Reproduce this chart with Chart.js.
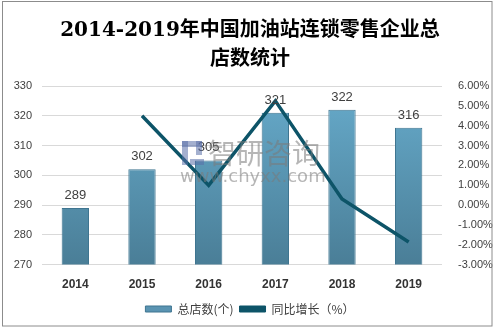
<!DOCTYPE html>
<html>
<head>
<meta charset="utf-8">
<script src="https://cdn.jsdelivr.net/npm/chart.js@4/dist/chart.umd.min.js"></script>
<style>
html,body{margin:0;padding:0;background:#fff;}
#wrap{width:498px;height:330px;}
</style>
</head>
<body>
<div id="wrap"><canvas id="c" width="498" height="330"></canvas></div>
<script>
const years = ['2014','2015','2016','2017','2018','2019'];
const storeCounts = [289, 302, 305, 321, 322, 316];
const growthRates = [null, 4.5, 0.99, 5.25, 0.31, -1.86];
const leftTicks = [270, 280, 290, 300, 310, 320, 330];
const rightTicks = [-3, -2, -1, 0, 1, 2, 3, 4, 5, 6];
const titleLines = ['2014-2019年中国加油站连锁零售企业总', '店数统计'];
const seriesNames = ['总店数(个)', '同比增长（%）'];
const watermarkText = ['智研咨询', 'www.chyxx.com'];

const barLabels = {
  id: 'barLabels',
  afterDatasetsDraw(chart) {
    const ctx = chart.ctx;
    const meta = chart.getDatasetMeta(0);
    ctx.save();
    ctx.font = '13px "Liberation Sans", Arial, sans-serif';
    ctx.fillStyle = '#404040';
    ctx.textAlign = 'center';
    ctx.textBaseline = 'bottom';
    meta.data.forEach((bar, i) => {
      ctx.fillText(String(storeCounts[i]), bar.x, bar.y - 6);
    });
    ctx.restore();
  }
};

const decor = {
  id: 'decor',
  afterDraw(chart) {
    const ctx = chart.ctx;
    ctx.save();
    ctx.globalAlpha = 0.55;
    ctx.fillStyle = '#7a7a7a';
    ctx.font = '28px "Noto Sans CJK SC", sans-serif';
    ctx.textBaseline = 'middle';
    ctx.textAlign = 'left';
    ctx.fillText(watermarkText[0], 208, 153);
    ctx.font = '18px "DejaVu Sans", sans-serif';
    ctx.fillText(watermarkText[1], 180, 177);
    ctx.fillStyle = '#5a6fa8';
    ctx.fillRect(182, 141, 6, 24);
    ctx.fillRect(182, 141, 20, 6);
    ctx.fillRect(196, 141, 6, 14);
    ctx.fillRect(190, 159, 14, 6);
    ctx.restore();
    ctx.save();
    ctx.strokeStyle = '#8c8c8c';
    ctx.lineWidth = 1;
    ctx.strokeRect(2.5, 1.5, 489.5, 324.5);
    ctx.restore();
  }
};

function barGradient(context) {
  const chart = context.chart;
  const area = chart.chartArea;
  if (!area) return '#5f9fbf';
  const g = chart.ctx.createLinearGradient(0, area.top, 0, area.bottom);
  g.addColorStop(0, '#67abcb');
  g.addColorStop(1, '#4a7e97');
  return g;
}

new Chart(document.getElementById('c'), {
  data: {
    labels: years,
    datasets: [
      {
        type: 'bar',
        label: seriesNames[0],
        data: storeCounts,
        yAxisID: 'y',
        backgroundColor: barGradient,
        borderColor: '#3f7590',
        borderWidth: 1,
        barPercentage: 0.41,
        categoryPercentage: 1.0,
        order: 2
      },
      {
        type: 'line',
        label: seriesNames[1],
        data: growthRates,
        yAxisID: 'y1',
        borderColor: '#0d5468',
        backgroundColor: '#0d5468',
        borderWidth: 3.5,
        pointRadius: 0,
        tension: 0,
        order: 1
      }
    ]
  },
  options: {
    responsive: false,
    animation: false,
    layout: { padding: { left: 6, right: 4, top: 0, bottom: 5 } },
    plugins: {
      title: {
        display: true,
        text: titleLines,
        color: '#000',
        font: { family: '"DejaVu Serif", "Noto Sans CJK SC", serif', size: 20, weight: 'bold', lineHeight: 1.45 },
        padding: { top: 16, bottom: 12 }
      },
      legend: {
        position: 'bottom',
        labels: {
          color: '#404040',
          font: { family: '"Noto Sans CJK SC", sans-serif', size: 12 },
          boxWidth: 26,
          boxHeight: 6,
          padding: 6,
          generateLabels(chart) {
            return chart.data.datasets.map((ds, i) => ({
              text: ds.label,
              fillStyle: i === 0 ? '#5a94b2' : '#0d5468',
              strokeStyle: i === 0 ? '#3f7590' : '#0d5468',
              lineWidth: 1,
              datasetIndex: i,
              fontColor: '#404040'
            }));
          }
        }
      },
      tooltip: { enabled: false }
    },
    scales: {
      x: {
        grid: { display: false },
        border: { display: false },
        ticks: { color: '#333', font: { family: '"Liberation Sans", Arial, sans-serif', size: 12, weight: 'bold' }, padding: 5 }
      },
      y: {
        position: 'left',
        min: 270, max: 330,
        afterBuildTicks(scale) { scale.ticks = leftTicks.map(v => ({ value: v })); },
        afterFit(scale) { scale.width = 36; },
        grid: { color: '#d9d9d9', drawTicks: false },
        border: { display: false },
        ticks: { color: '#404040', font: { family: '"Liberation Sans", Arial, sans-serif', size: 11 }, padding: 10 }
      },
      y1: {
        position: 'right',
        min: -3, max: 6,
        afterBuildTicks(scale) { scale.ticks = rightTicks.map(v => ({ value: v })); },
        afterFit(scale) { scale.width = 52; },
        grid: { display: false },
        border: { display: false },
        ticks: {
          color: '#404040',
          font: { family: '"Liberation Sans", Arial, sans-serif', size: 11 },
          padding: 8,
          callback: v => v.toFixed(2) + '%'
        }
      }
    }
  },
  plugins: [barLabels, decor]
});
</script>
</body>
</html>
